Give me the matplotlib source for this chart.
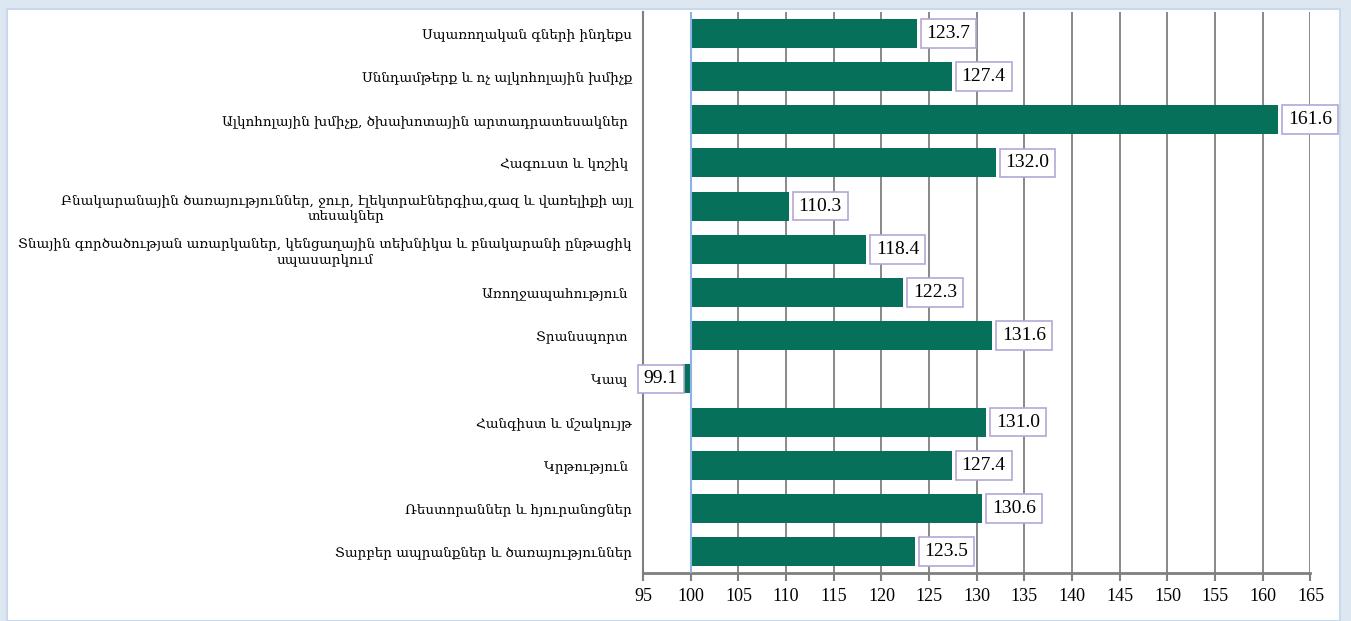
import matplotlib.pyplot as plt
from matplotlib.patches import Rectangle

categories = [
    "Սպառողական գների ինդեքս",
    "Սննդամթերք և ոչ ալկոհոլային խմիչք",
    "Ալկոհոլային խմիչք, ծխախոտային արտադրատեսակներ ",
    "Հագուստ և կոշիկ ",
    "Բնակարանային ծառայություններ, ջուր, էլեկտրաէներգիա,գազ և վառելիքի այլ\nտեսակներ",
    "Տնային գործածության առարկաներ, կենցաղային տեխնիկա և բնակարանի ընթացիկ\nսպասարկում",
    "Առողջապահություն ",
    "Տրանսպորտ ",
    "Կապ ",
    "Հանգիստ և մշակույթ",
    "Կրթություն ",
    "Ռեստորաններ և հյուրանոցներ",
    "Տարբեր ապրանքներ և ծառայություններ",
]
values = [123.7, 127.4, 161.6, 132.0, 110.3, 118.4, 122.3, 131.6, 99.1, 131.0, 127.4, 130.6, 123.5]
xticks = list(range(95, 170, 5))

bar_color = "#07705b"
grid_color = "#7f7f7f"
label_font = ["DejaVu Serif", "DejaVu Sans"]

fig = plt.figure(figsize=(13.51, 6.21), dpi=100, facecolor="#dde7f2")
fig.patches.append(Rectangle((0.005, 0), 0.987, 0.985, transform=fig.transFigure,
                             facecolor="white", edgecolor="#c9d8ea", lw=1.5, zorder=-5))

ax = fig.add_axes([0.476, 0.077, 0.494, 0.904])
ax.set_zorder(2)
ax.set_facecolor("none")

y = list(range(len(categories)))
ax.barh(y, [v - 100 for v in values], left=100, height=0.67, color=bar_color, zorder=3)
ax.axvline(100, color="#8db3e2", lw=1.5, zorder=4)

box = dict(boxstyle="square,pad=0.3", fc="white", ec="#b4a7d6", lw=1.2)
for yi, v in zip(y, values):
    if v >= 100:
        ax.annotate(f"{v:.1f}", (v, yi), xytext=(7, 0), textcoords="offset points",
                    ha="left", va="center", fontsize=14, family="Liberation Serif",
                    zorder=5, bbox=box)
    else:
        ax.annotate(f"{v:.1f}", (v, yi), xytext=(-3, 0), textcoords="offset points",
                    ha="right", va="center", fontsize=14, family="Liberation Serif",
                    zorder=5, bbox=box)

ax.set_xlim(95, 165)
ax.set_ylim(len(categories) - 0.5, -0.5)
ax.set_xticks(xticks)
ax.set_xticklabels([str(t) for t in xticks], family="Liberation Serif", fontsize=13)
for t in xticks[2:]:
    ax.axvline(t, color=grid_color, lw=1.3, zorder=1)

ax.set_yticks(y)
ax.set_yticklabels(categories, family=label_font, fontsize=9.7, multialignment="center")
ax.tick_params(axis="y", length=0, pad=8)
ax.tick_params(axis="x", direction="out", length=6, width=1.5, color=grid_color, pad=5)

for s in ["top", "right"]:
    ax.spines[s].set_visible(False)
ax.spines["left"].set_color(grid_color)
ax.spines["left"].set_linewidth(1.5)
ax.spines["bottom"].set_color(grid_color)
ax.spines["bottom"].set_linewidth(2)

fig.savefig("out.png", dpi=100, facecolor=fig.get_facecolor())
